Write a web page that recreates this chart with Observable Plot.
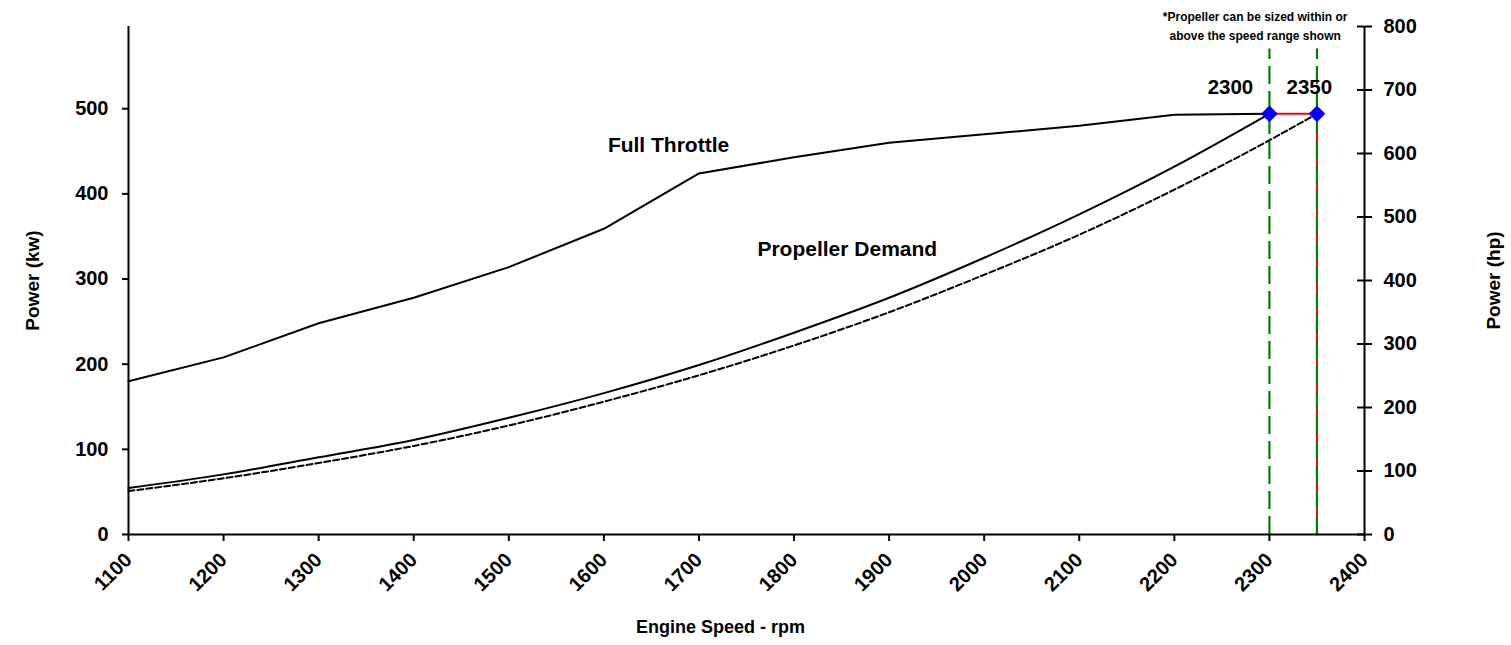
<!DOCTYPE html>
<html>
<head>
<meta charset="utf-8">
<script src="https://cdn.jsdelivr.net/npm/d3@7"></script>
<script src="https://cdn.jsdelivr.net/npm/@observablehq/plot@0.6"></script>
<style>
  html, body { margin: 0; padding: 0; background: #fff; }
  #chart svg { display: block; }
</style>
</head>
<body>
<div id="chart"></div>
<script>
// ---- data ----
const rpm = [1100, 1200, 1300, 1400, 1500, 1600, 1700, 1800, 1900, 2000, 2100, 2200, 2300];
const fullThrottleKw = [180, 208, 248, 278, 314, 359, 424, 443, 460, 470, 480, 493, 494];
const propDemandKw = [54.5, 70.6, 90.6, 111, 137, 166, 199, 237, 278, 325, 376, 432, 494];
const propDashedRpm = [1100, 1200, 1300, 1400, 1500, 1600, 1700, 1800, 1900, 2000, 2100, 2200, 2300, 2350];
const propDashedKw = [51, 66, 84, 104, 128, 156, 187, 222, 261, 305, 352, 405, 463, 494];
const ratedRpm = [2300, 2350];
const ratedKw = [494, 494];
const guideTopKw = 570;
const xTicks = [1100, 1200, 1300, 1400, 1500, 1600, 1700, 1800, 1900, 2000, 2100, 2200, 2300, 2400];
const kwTicks = [0, 100, 200, 300, 400, 500];
const hpTicks = [0, 100, 200, 300, 400, 500, 600, 700, 800];
const KW_PER_HP = 0.7457;
const annotations = [
  {text: "Full Throttle", rpm: 1668, kw: 461, size: 21},
  {text: "Propeller Demand", rpm: 1856, kw: 339, size: 21},
  {text: "2300", rpm: 2259, kw: 529, size: 20.5},
  {text: "2350", rpm: 2342, kw: 529, size: 20.5},
  {text: "*Propeller can be sized within or\nabove the speed range shown", rpm: 2285, kw: 599, size: 12}
];

// ---- tables ----
const fullThrottle = rpm.map((r, i) => ({rpm: r, kw: fullThrottleKw[i]}));
const propDemand = rpm.map((r, i) => ({rpm: r, kw: propDemandKw[i]}));
const propDashed = propDashedRpm.map((r, i) => ({rpm: r, kw: propDashedKw[i]}));
const rated = ratedRpm.map((r, i) => ({rpm: r, kw: ratedKw[i]}));
const redPath = [rated[0], rated[1], {rpm: rated[1].rpm, kw: 0}];
const guides = rated.map(d => ({rpm: d.rpm, y1: 0, y2: guideTopKw}));

const W = 1511, H = 645, mL = 128, mR = 147, mT = 26, mB = 111;
const FONT = "'Liberation Sans', Arial, Helvetica, sans-serif";
const TICK_FS = 20;

const chart = Plot.plot({
  width: W, height: H,
  marginLeft: mL, marginRight: mR, marginTop: mT, marginBottom: mB,
  x: {domain: [1100, 2400]},
  y: {domain: [0, 800 * KW_PER_HP]},
  style: {fontFamily: FONT, fontWeight: "bold", fontSize: "20px", color: "#000", background: "#fff", overflow: "visible"},
  marks: [
    // guide lines
    Plot.line(redPath, {x: "rpm", y: "kw", stroke: "#ff0000", strokeWidth: 2}),
    Plot.ruleX(guides, {x: "rpm", y1: "y1", y2: "y2", stroke: "#008000", strokeWidth: 2.2, strokeDasharray: "18,7"}),
    // curves
    Plot.line(fullThrottle, {x: "rpm", y: "kw", stroke: "#000", strokeWidth: 2}),
    Plot.line(propDemand, {x: "rpm", y: "kw", stroke: "#000", strokeWidth: 2, curve: "monotone-x"}),
    Plot.line(propDashed, {x: "rpm", y: "kw", stroke: "#000", strokeWidth: 2, strokeDasharray: "6,3", curve: "monotone-x"}),
    Plot.dot(rated, {x: "rpm", y: "kw", symbol: "diamond2", r: 7.5, fill: "#0000ff", stroke: "none"}),
    // axes lines
    Plot.ruleY([0], {stroke: "#000", strokeWidth: 2}),
    Plot.ruleX([1100], {stroke: "#000", strokeWidth: 2}),
    Plot.ruleX([2400], {stroke: "#000", strokeWidth: 2}),
    // ticks & labels
    Plot.axisX(xTicks, {tickSize: 7, tickRotate: -45, tickPadding: 15, tickFormat: d => String(d), label: null, strokeWidth: 2, fontSize: TICK_FS}),
    Plot.axisY(kwTicks, {anchor: "left", tickSize: 6, tickPadding: 14, tickFormat: d => String(d), label: null, strokeWidth: 2, fontSize: TICK_FS}),
    Plot.axisY(hpTicks.map(h => h * KW_PER_HP), {anchor: "right", tickSize: 7, tickPadding: 12, tickFormat: d => String(Math.round(d / KW_PER_HP)), label: null, strokeWidth: 2, fontSize: TICK_FS}),
    Plot.axisY(hpTicks.map(h => h * KW_PER_HP), {anchor: "left", dx: W - mL - mR, tickSize: 7, tickFormat: () => "", label: null, strokeWidth: 2}),
    // axis titles
    Plot.text(["Power (kw)"], {frameAnchor: "left", textAnchor: "middle", dx: -96, rotate: -90, fontSize: 19, fontWeight: "bold"}),
    Plot.text(["Power (hp)"], {frameAnchor: "right", textAnchor: "middle", dx: 129, rotate: -90, fontSize: 19, fontWeight: "bold"}),
    Plot.text(["Engine Speed - rpm"], {frameAnchor: "bottom", dx: -26, dy: 98, fontSize: 18, fontWeight: "bold"}),
    // annotations
    Plot.text(annotations, {x: "rpm", y: "kw", text: "text", fontSize: "size", fontWeight: "bold", lineHeight: 1.55})
  ]
});
document.getElementById("chart").appendChild(chart);
</script>
</body>
</html>
